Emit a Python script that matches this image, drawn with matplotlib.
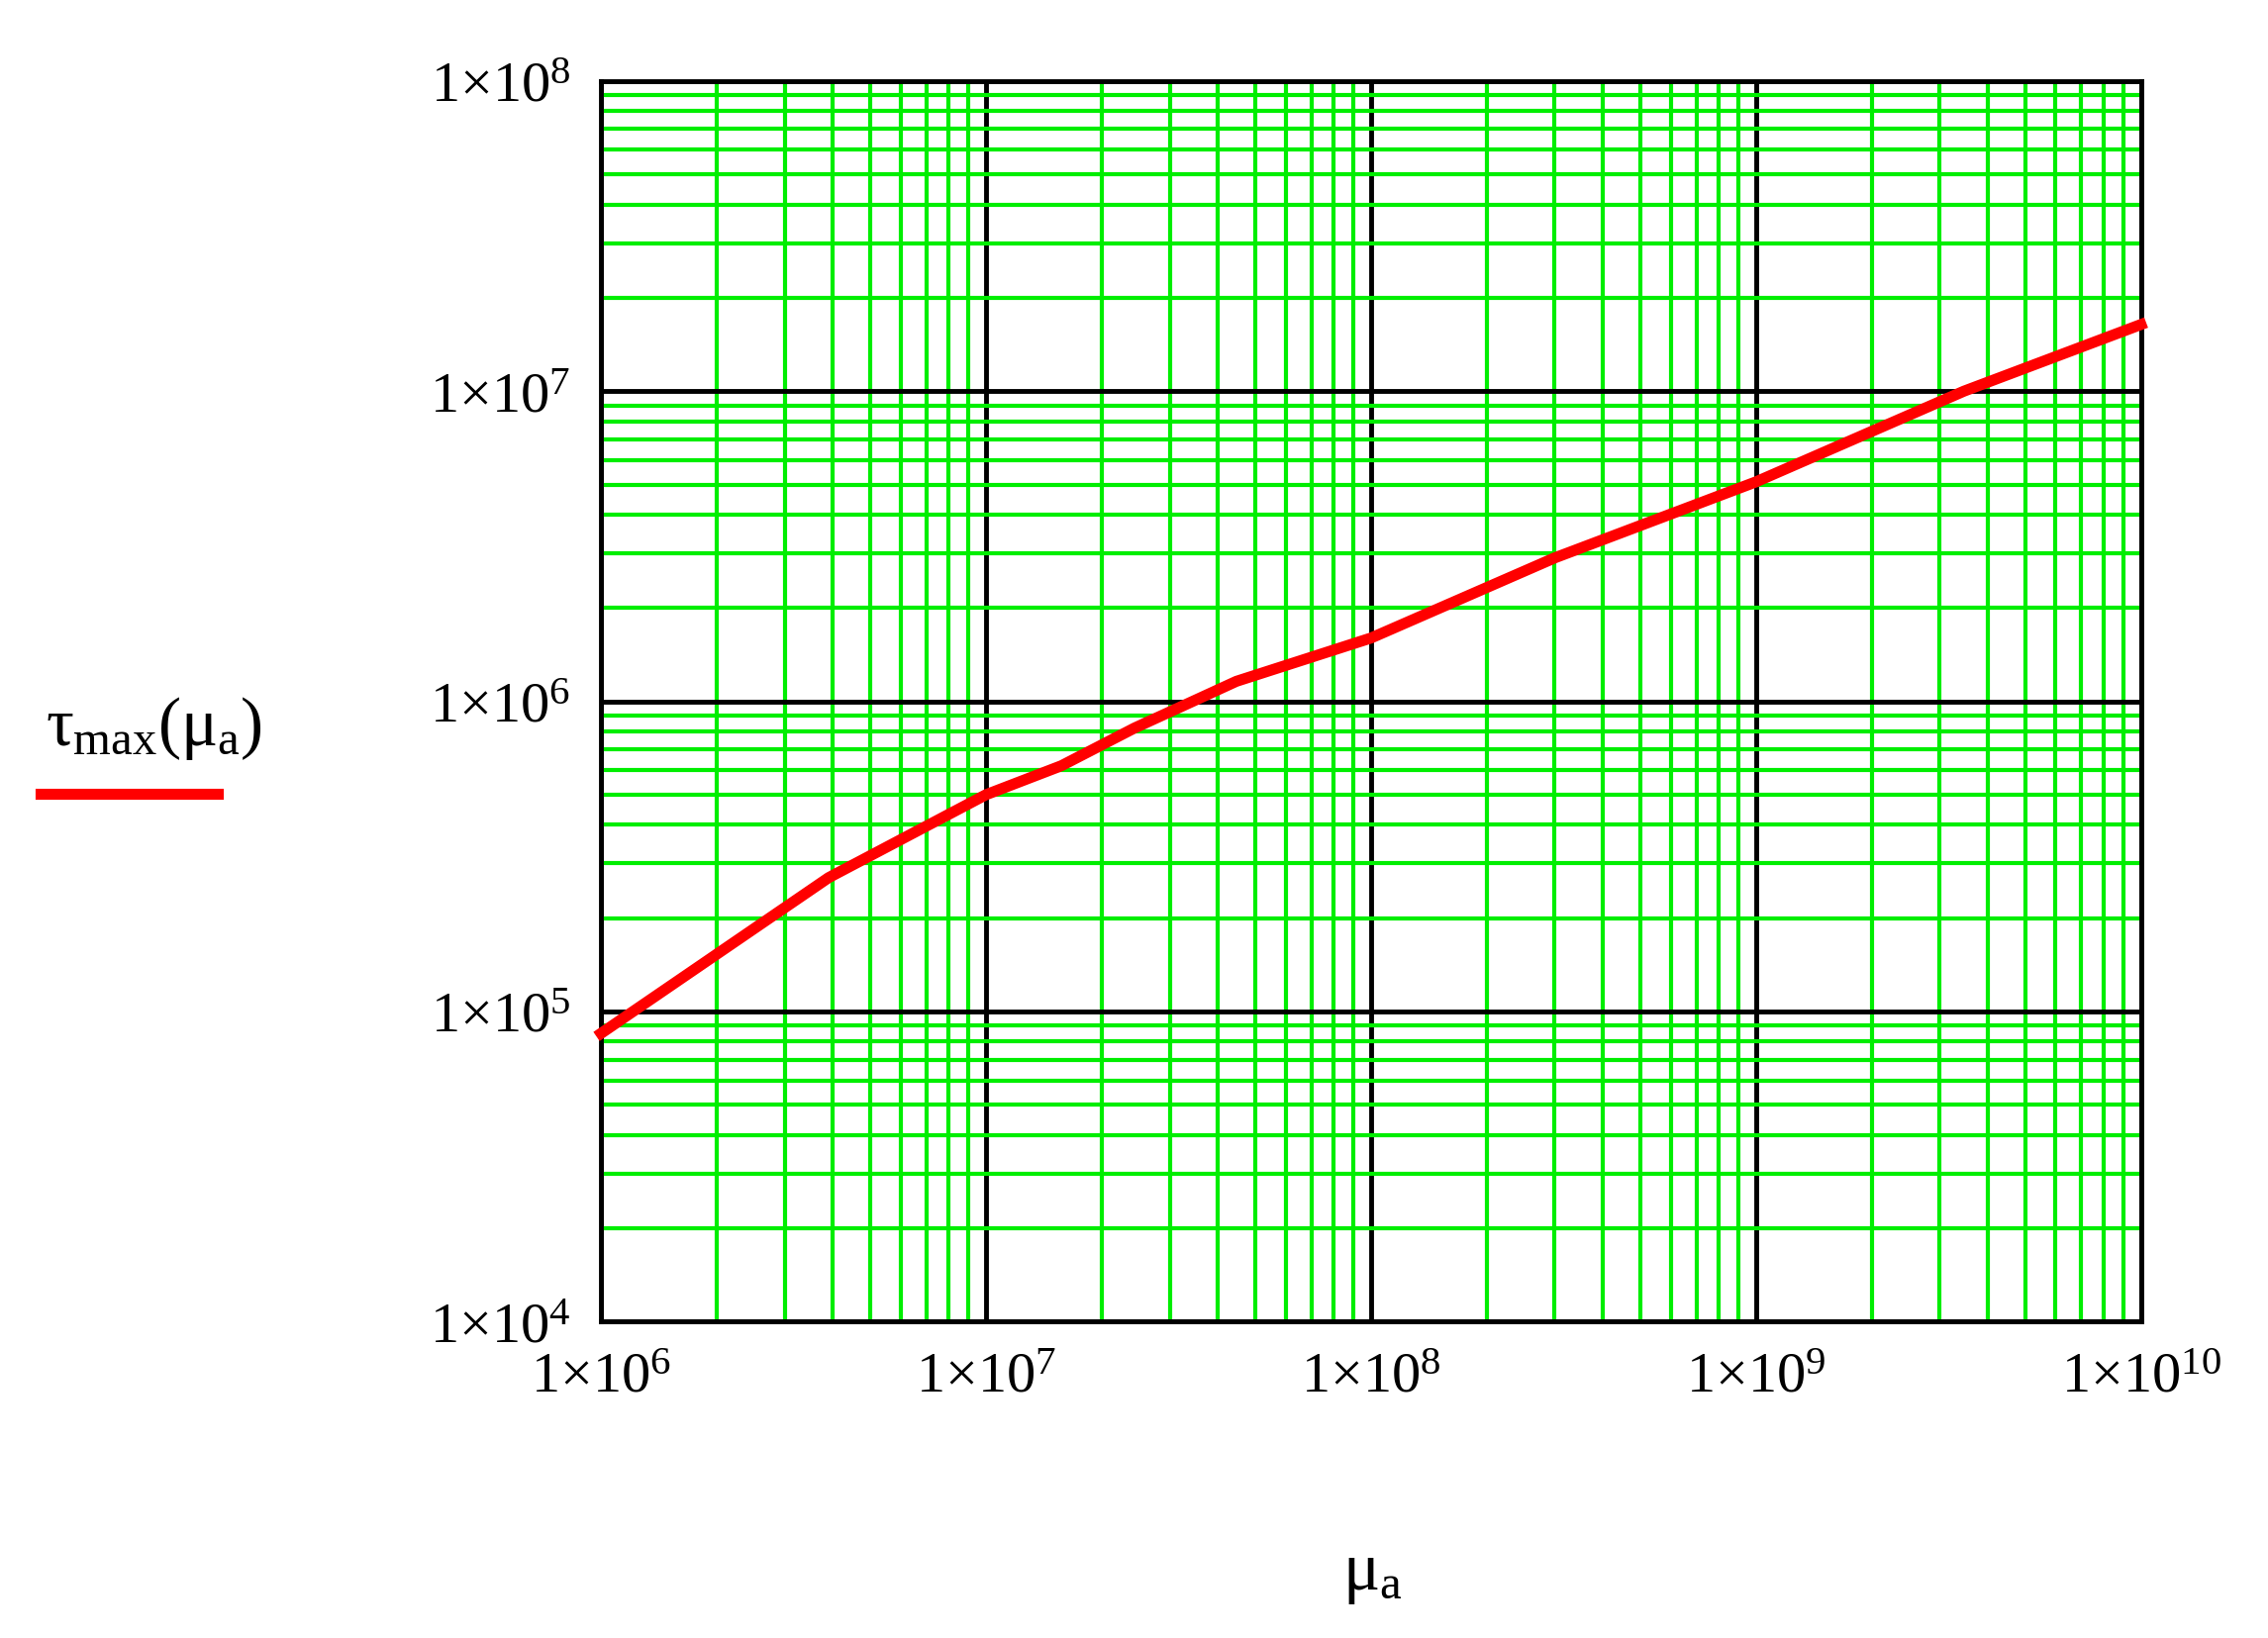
import matplotlib
matplotlib.use("Agg")
import matplotlib.pyplot as plt
from matplotlib.ticker import LogLocator, FixedLocator

mu_a = [1e6, 3.9e6, 1e7, 1.57e7, 2.43e7, 4.47e7, 1e8, 3.0e8, 1e9, 3.47e9, 1e10]
tau_max = [8.5e4, 2.7e5, 5.0e5, 6.2e5, 8.2e5, 1.16e6, 1.6e6, 2.9e6, 5.1e6, 1.0e7, 1.64e7]
xticks = [1e6, 1e7, 1e8, 1e9, 1e10]
yticks = [1e4, 1e5, 1e6, 1e7, 1e8]
xlabels = [r"$1{\times}10^{6}$", r"$1{\times}10^{7}$", r"$1{\times}10^{8}$", r"$1{\times}10^{9}$", r"$1{\times}10^{10}$"]
ylabels = [r"$1{\times}10^{4}$", r"$1{\times}10^{5}$", r"$1{\times}10^{6}$", r"$1{\times}10^{7}$", r"$1{\times}10^{8}$"]

plt.rcParams['mathtext.fontset'] = 'custom'
plt.rcParams['mathtext.rm'] = 'Liberation Serif'
plt.rcParams['mathtext.it'] = 'Liberation Serif'
plt.rcParams['font.family'] = 'Liberation Serif'

fig = plt.figure(figsize=(22.91, 16.56), dpi=100)
ax = fig.add_axes([0.265, 0.193, 0.679, 0.757])
ax.set_xscale('log'); ax.set_yscale('log')
ax.set_xlim(1e6, 1e10); ax.set_ylim(1e4, 1e8)
ax.xaxis.set_minor_locator(LogLocator(base=10, subs=range(2, 10)))
ax.yaxis.set_minor_locator(LogLocator(base=10, subs=range(2, 10)))
ax.grid(True, which='minor', color='#00ee00', lw=3)
ax.grid(True, which='major', color='black', lw=3.5)
ax.set_axisbelow(True)
ax.xaxis.set_major_locator(FixedLocator(xticks))
ax.yaxis.set_major_locator(FixedLocator(yticks))
ax.set_xticklabels(xlabels); ax.set_yticklabels(ylabels)
ax.tick_params(which='both', length=0, labelsize=42, pad=22)
for s in ax.spines.values():
    s.set_linewidth(3.5)
ax.plot(mu_a, tau_max, color='red', lw=8, zorder=5, clip_on=False)

fig.text(0.605, 0.03, r"$\mu_{\mathrm{a}}$", fontsize=50, ha='center')
fig.text(0.02, 0.545, r"$\tau_{\mathrm{max}}(\mu_{\mathrm{a}})$", fontsize=50, ha='left')
fig.add_artist(plt.Line2D([0.018, 0.096], [0.515, 0.515], color='red', lw=8, transform=fig.transFigure))
fig.savefig("out.png", dpi=100, facecolor='white')
